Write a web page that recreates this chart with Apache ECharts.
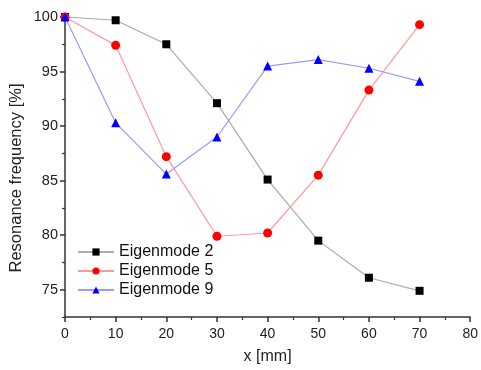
<!DOCTYPE html>
<html><head><meta charset="utf-8">
<script src="https://cdn.jsdelivr.net/npm/echarts@6/dist/echarts.min.js"></script>
<style>html,body{margin:0;padding:0;background:#fff}#c{width:481px;height:370px}</style>
</head><body><div id="c"></div>
<script>
const xValues = [0, 10, 20, 30, 40, 50, 60, 70];
const mode2 = [100, 99.7, 97.5, 92.1, 85.1, 79.5, 76.1, 74.9];
const mode5 = [100, 97.4, 87.2, 79.9, 80.2, 85.5, 93.3, 99.3];
const mode9 = [100, 90.3, 85.6, 89.0, 95.5, 96.1, 95.3, 94.1];
const xMajor = [0, 10, 20, 30, 40, 50, 60, 70, 80];
const xMinor = [5, 15, 25, 35, 45, 55, 65, 75];
const yMajor = [75, 80, 85, 90, 95, 100];
const yMinor = [72.5, 77.5, 82.5, 87.5, 92.5, 97.5];
const seriesNames = ['Eigenmode 2', 'Eigenmode 5', 'Eigenmode 9'];
const yTitle = 'Resonance frequency [%]';
const xTitle = 'x [mm]';

const font = 'Liberation Sans, Arial, sans-serif';
const axisCol = '#333';
const pair = (xs, ys) => xs.map((x, i) => [x, ys[i]]);

const chart = echarts.init(document.getElementById('c'));
const baseX = {type: 'value', min: 0, max: 80, gridIndex: 0, position: 'bottom'};
const baseY = {type: 'value', min: 72.5, max: 100, gridIndex: 0, position: 'left'};
chart.setOption({
  animation: false,
  grid: {left: 65, right: 6, top: 17, bottom: 52},
  graphic: [{
    type: 'text', x: 16, y: 178, rotation: Math.PI / 2,
    style: {text: yTitle, font: '16.5px ' + font, fill: '#222', textAlign: 'center', textVerticalAlign: 'middle'}
  }],
  xAxis: [
    Object.assign({}, baseX, {
      name: xTitle, nameLocation: 'middle', nameGap: 32,
      nameTextStyle: {fontFamily: font, fontSize: 16, color: '#222'},
      axisLine: {lineStyle: {color: axisCol, width: 1.5}},
      axisTick: {customValues: xMajor, length: 5, lineStyle: {color: axisCol, width: 1.5}},
      axisLabel: {customValues: xMajor, fontFamily: font, fontSize: 14, color: '#222', margin: 10},
      splitLine: {show: false}
    }),
    Object.assign({}, baseX, {
      axisLine: {show: false},
      axisTick: {customValues: xMinor, length: 3, lineStyle: {color: axisCol, width: 1.2}},
      axisLabel: {show: false}, splitLine: {show: false}
    })
  ],
  yAxis: [
    Object.assign({}, baseY, {
      axisLine: {show: true, lineStyle: {color: axisCol, width: 1.5}},
      axisTick: {show: true, customValues: yMajor, length: 5, lineStyle: {color: axisCol, width: 1.5}},
      axisLabel: {customValues: yMajor, fontFamily: font, fontSize: 14.5, color: '#222', margin: 7},
      splitLine: {show: false}
    }),
    Object.assign({}, baseY, {
      axisLine: {show: false},
      axisTick: {show: true, customValues: yMinor, length: 3, lineStyle: {color: axisCol, width: 1.2}},
      axisLabel: {show: false}, splitLine: {show: false}
    })
  ],
  legend: {
    orient: 'vertical', left: 77, top: 244, itemWidth: 36, itemHeight: 9, itemGap: 3, padding: 0,
    textStyle: {fontFamily: font, fontSize: 16, color: '#111'},
    data: seriesNames
  },
  series: [
    {name: seriesNames[0], type: 'line', data: pair(xValues, mode2), symbol: 'rect', symbolSize: 8,
     itemStyle: {color: '#000'}, lineStyle: {color: '#aaaaaa', width: 1.2}},
    {name: seriesNames[1], type: 'line', data: pair(xValues, mode5), symbol: 'circle', symbolSize: 9,
     itemStyle: {color: '#ff0000'}, lineStyle: {color: '#ff9999', width: 1.2}},
    {name: seriesNames[2], type: 'line', data: pair(xValues, mode9), symbol: 'triangle', symbolSize: 9,
     itemStyle: {color: '#0000ff'}, lineStyle: {color: '#9999ff', width: 1.2}}
  ]
});
</script></body></html>
